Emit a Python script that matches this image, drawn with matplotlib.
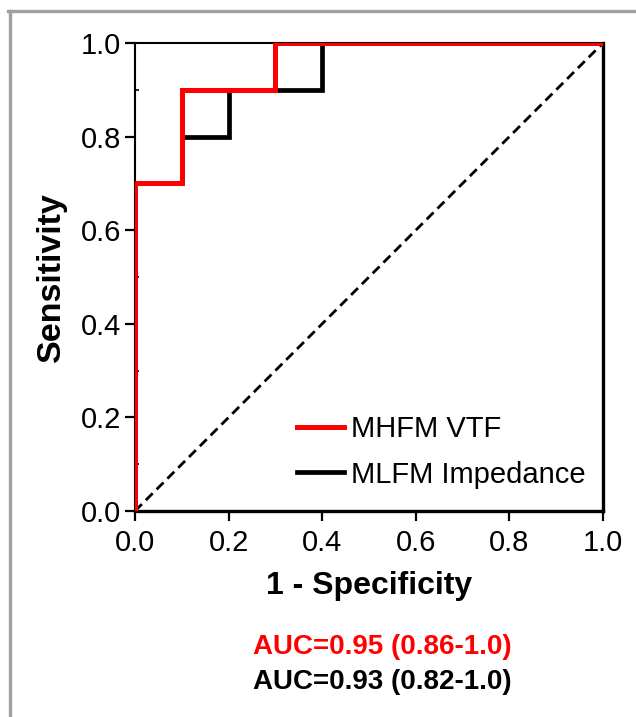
import matplotlib
matplotlib.use("Agg")
import matplotlib.pyplot as plt
from matplotlib.lines import Line2D
from matplotlib.ticker import MultipleLocator

plt.rcParams['font.family'] = ['Liberation Sans', 'DejaVu Sans']

# ROC data (1 - specificity, sensitivity)
vtf_x = [0.0, 0.0, 0.1, 0.1, 0.3, 0.3, 1.0]
vtf_y = [0.0, 0.7, 0.7, 0.9, 0.9, 1.0, 1.0]
imp_x = [0.0, 0.0, 0.1, 0.1, 0.2, 0.2, 0.4, 0.4, 1.0]
imp_y = [0.0, 0.7, 0.7, 0.8, 0.8, 0.9, 0.9, 1.0, 1.0]
ref_x = [0.0, 1.0]
ref_y = [0.0, 1.0]
labels = ["MHFM VTF", "MLFM Impedance"]
auc_texts = ["AUC=0.95 (0.86-1.0)", "AUC=0.93 (0.82-1.0)"]
ticks = [0.0, 0.2, 0.4, 0.6, 0.8, 1.0]

W, H = 636, 717
fig = plt.figure(figsize=(W / 100, H / 100), dpi=100)
ax = fig.add_axes([135 / W, 1 - 511 / H, 468 / W, 468 / H])

ax.plot(ref_x, ref_y, color='black', lw=2.0, ls=(0, (3.5, 2)), zorder=2)
l_imp, = ax.plot(imp_x, imp_y, color='black', lw=3.4, zorder=3, solid_joinstyle='miter')
l_vtf, = ax.plot(vtf_x, vtf_y, color='#ff0000', lw=3.6, zorder=4, solid_joinstyle='miter')

ax.set_xlim(0, 1)
ax.set_ylim(0, 1)
ax.set_xticks(ticks)
ax.set_yticks(ticks)
ax.set_xticklabels([f"{t:.1f}" for t in ticks])
ax.set_yticklabels([f"{t:.1f}" for t in ticks])
ax.yaxis.set_minor_locator(MultipleLocator(0.1))
ax.tick_params(axis='both', which='major', direction='out', length=7, width=1.6,
               labelsize=21, colors='black')
ax.tick_params(axis='x', which='major', pad=6)
ax.tick_params(axis='y', which='major', pad=3)
ax.tick_params(axis='y', which='minor', direction='in', length=3, width=1.2)

for side, w in [('left', 1.5), ('top', 1.5), ('right', 2.4), ('bottom', 2.4)]:
    ax.spines[side].set_linewidth(w)
    ax.spines[side].set_color('black')

ax.set_xlabel("1 - Specificity", fontsize=23, fontweight='bold', labelpad=10)
ax.set_ylabel("Sensitivity", fontsize=24.5, fontweight='bold', labelpad=10)

leg = ax.legend([l_vtf, l_imp], labels, loc='upper left', bbox_to_anchor=(0.346, 0.205),
                frameon=False, fontsize=21, handlelength=1.6, handletextpad=0.25,
                labelspacing=0.6, borderpad=0, borderaxespad=0)
for t in leg.get_texts():
    t.set_color('black')

fig.text(382 / W, 1 - 647 / H, auc_texts[0], color='#ff0000', fontsize=20,
         fontweight='bold', ha='center', va='center')
fig.text(382 / W, 1 - 682 / H, auc_texts[1], color='black', fontsize=20,
         fontweight='bold', ha='center', va='center')

# gray outer border (left and top)
gray = '#a0a0a4'
fig.add_artist(Line2D([9.5 / W, 9.5 / W], [0, 1 - 11 / H], color=gray, lw=2.4,
                      transform=fig.transFigure))
fig.add_artist(Line2D([8.3 / W, 1], [1 - 11 / H, 1 - 11 / H], color=gray, lw=2.4,
                      transform=fig.transFigure))

fig.savefig("out.png", dpi=100)
